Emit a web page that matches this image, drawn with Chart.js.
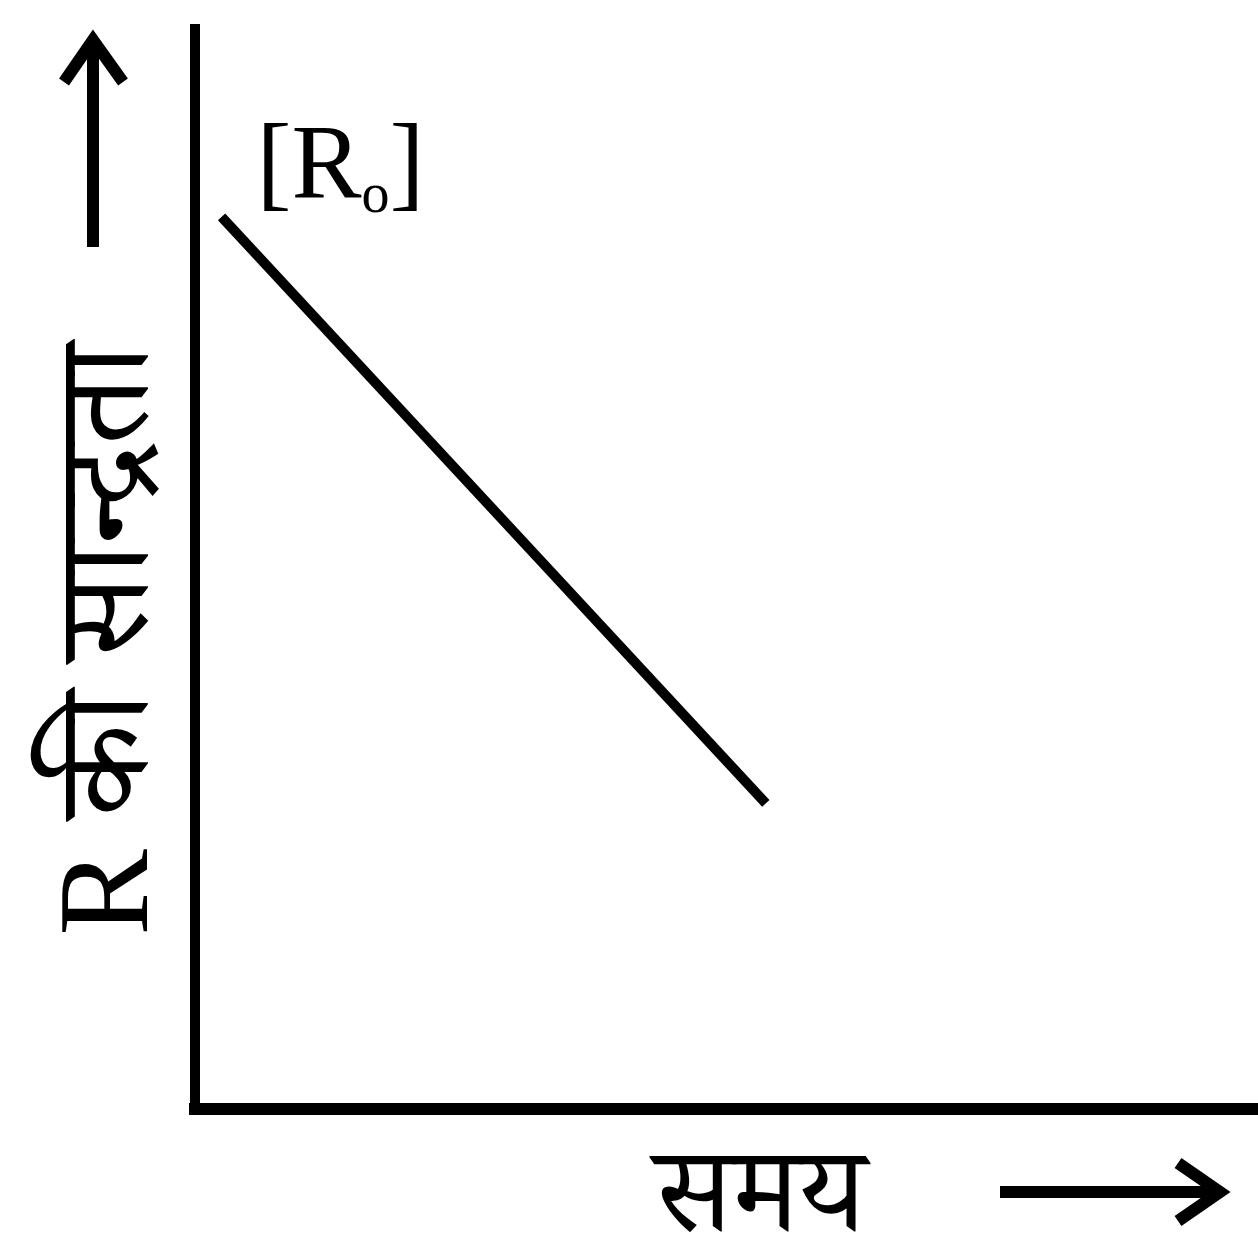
<!DOCTYPE html>
<html>
<head>
<meta charset="utf-8">
<script src="https://cdn.jsdelivr.net/npm/chart.js@4/dist/chart.umd.min.js"></script>
<style>
  html, body { margin: 0; background: #fff; }
</style>
</head>
<body>
<canvas id="chart" width="1258" height="1247"></canvas>
<script>
// data (axes run 0..10, no ticks shown)
const time = [0.25, 5.37];
const conc = [8.26, 2.83];
const xTitle = "समय";
const yTitle = "R की सान्द्रता";
const startLabel = "[R";
const startSub = "o";

const serif = '"Liberation Serif", "Noto Serif Devanagari", "Noto Sans Devanagari", "Lohit Devanagari", serif';

const decorations = {
    id: "decorations",
    afterDraw(chart) {
        const ctx = chart.ctx;
        const area = chart.chartArea;
        const xs = chart.scales.x;
        const ys = chart.scales.y;
        ctx.save();
        ctx.fillStyle = "#000";
        ctx.strokeStyle = "#000";

        // [R0] label next to the first point
        const px = xs.getPixelForValue(time[0]);
        const py = ys.getPixelForValue(conc[0]);
        ctx.textAlign = "left";
        ctx.textBaseline = "alphabetic";
        ctx.font = "105px " + serif;
        let lx = px + 35;
        const base = py - 20;
        ctx.fillText(startLabel, lx, base);
        lx += ctx.measureText(startLabel).width;
        ctx.font = "56px " + serif;
        ctx.fillText(startSub, lx, base + 15);
        lx += ctx.measureText(startSub).width;
        ctx.font = "105px " + serif;
        ctx.fillText("]", lx, base);

        // y title, rotated
        ctx.save();
        ctx.translate(area.left - 48, 640);
        ctx.rotate(-Math.PI / 2);
        ctx.textAlign = "center";
        ctx.font = "130px " + serif;
        ctx.fillText(yTitle, 0, 0);
        ctx.restore();

        // x title
        ctx.textAlign = "center";
        ctx.font = "120px " + serif;
        ctx.fillText(xTitle, 760, area.bottom + 122);

        // arrows
        ctx.lineWidth = 12;
        ctx.lineCap = "butt";
        ctx.lineJoin = "miter";
        ctx.beginPath();
        ctx.moveTo(93, 247);
        ctx.lineTo(93, 40);
        ctx.stroke();
        ctx.beginPath();
        ctx.moveTo(64, 82);
        ctx.lineTo(93, 40);
        ctx.lineTo(123, 82);
        ctx.stroke();

        ctx.beginPath();
        ctx.moveTo(1000, 1192);
        ctx.lineTo(1220, 1192);
        ctx.stroke();
        ctx.beginPath();
        ctx.moveTo(1178, 1163);
        ctx.lineTo(1220, 1192);
        ctx.lineTo(1178, 1221);
        ctx.stroke();
        ctx.restore();
    }
};

new Chart(document.getElementById("chart"), {
    type: "scatter",
    data: {
        datasets: [{
            data: time.map((t, i) => ({ x: t, y: conc[i] })),
            showLine: true,
            borderColor: "#000",
            borderWidth: 10,
            borderCapStyle: "butt",
            pointRadius: 0
        }]
    },
    options: {
        responsive: false,
        animation: false,
        devicePixelRatio: 1,
        layout: { padding: { left: 195, top: 29, right: 0, bottom: 138 } },
        plugins: { legend: { display: false }, tooltip: { enabled: false } },
        scales: {
            x: {
                type: "linear", min: 0, max: 10,
                grid: { display: false, drawTicks: false },
                ticks: { display: false },
                border: { display: true, color: "#000", width: 12 },
                afterFit(s) { s.height = 0; }
            },
            y: {
                type: "linear", min: 0, max: 10,
                grid: { display: false, drawTicks: false },
                ticks: { display: false },
                border: { display: true, color: "#000", width: 10 },
                afterFit(s) { s.width = 0; }
            }
        }
    },
    plugins: [decorations]
});
</script>
</body>
</html>
